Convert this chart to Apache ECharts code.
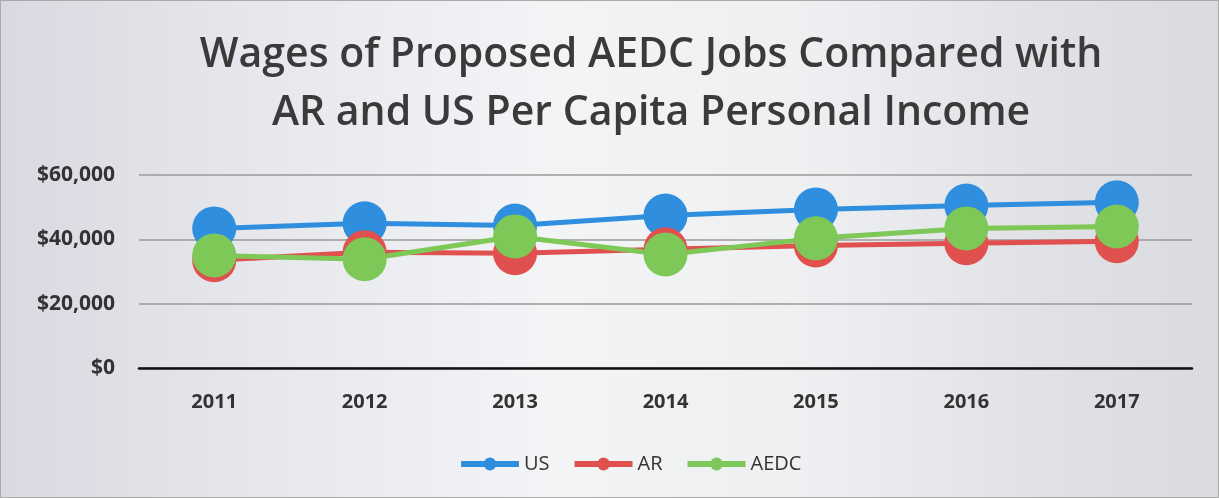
<!DOCTYPE html>
<html><head><meta charset="utf-8">
<script src="https://cdn.jsdelivr.net/npm/echarts@6/dist/echarts.min.js"></script>
<style>html,body{margin:0;padding:0;background:#fff}#c{width:1219px;height:498px;box-sizing:border-box;border:1px solid #aaa;background:linear-gradient(90deg,#d9dae1 0%,#e6e7ec 20%,#f3f4f6 45%,#eef0f2 65%,#e0e2e6 85%,#d9dbe0 100%)}</style>
</head><body><div id="c"></div>
<script>
const categories = ['2011','2012','2013','2014','2015','2016','2017'];
const usValues = [43400, 45000, 44300, 47400, 49300, 50500, 51500];
const arValues = [33500, 36000, 35700, 36900, 38100, 38800, 39400];
const aedcValues = [35000, 33800, 40900, 35300, 40300, 43400, 44000];
const yTicks = [0, 20000, 40000, 60000];

const chart = echarts.init(document.getElementById('c'));
function ser(name, data, color){
  return {name, type:'line', data, symbol:'circle', symbolSize:44,
    lineStyle:{width:5,color}, itemStyle:{color}, emphasis:{disabled:true}};
}
chart.setOption({
  animation:false,
  title:{text:'Wages of Proposed AEDC Jobs Compared with\nAR and US Per Capita Personal Income',
    left:645, textAlign:'center', top:20,
    textStyle:{fontFamily:'Open Sans', fontSize:41, fontWeight:600, color:'#3a3a3a', lineHeight:58}},
  legend:{top:448, left:452, itemWidth:58, itemHeight:16, itemGap:22,
    lineStyle:{width:6},
    textStyle:{fontFamily:'Open Sans', fontSize:20, color:'#333'},
    data:['US','AR','AEDC']},
  grid:{left:138, right:26, top:174, bottom:129},
  xAxis:{type:'category', data:categories, boundaryGap:true,
    axisLine:{lineStyle:{color:'#111', width:2.5}}, axisTick:{show:false},
    axisLabel:{fontFamily:'Open Sans', fontSize:20, fontWeight:'bold', color:'#333', margin:24}},
  yAxis:{type:'value', min:yTicks[0], max:yTicks[yTicks.length-1], interval:20000,
    axisLine:{show:false}, axisTick:{show:false},
    splitLine:{lineStyle:{color:'#9a9a9a', width:1.5}},
    axisLabel:{fontFamily:'Open Sans', fontSize:21, fontWeight:'bold', color:'#333', margin:24,
      formatter:v=>'$'+v.toLocaleString('en-US')}},
  series:[ser('US',usValues,'#2f8ede'), ser('AR',arValues,'#e0504f'), ser('AEDC',aedcValues,'#7ec857')]
});
</script></body></html>
